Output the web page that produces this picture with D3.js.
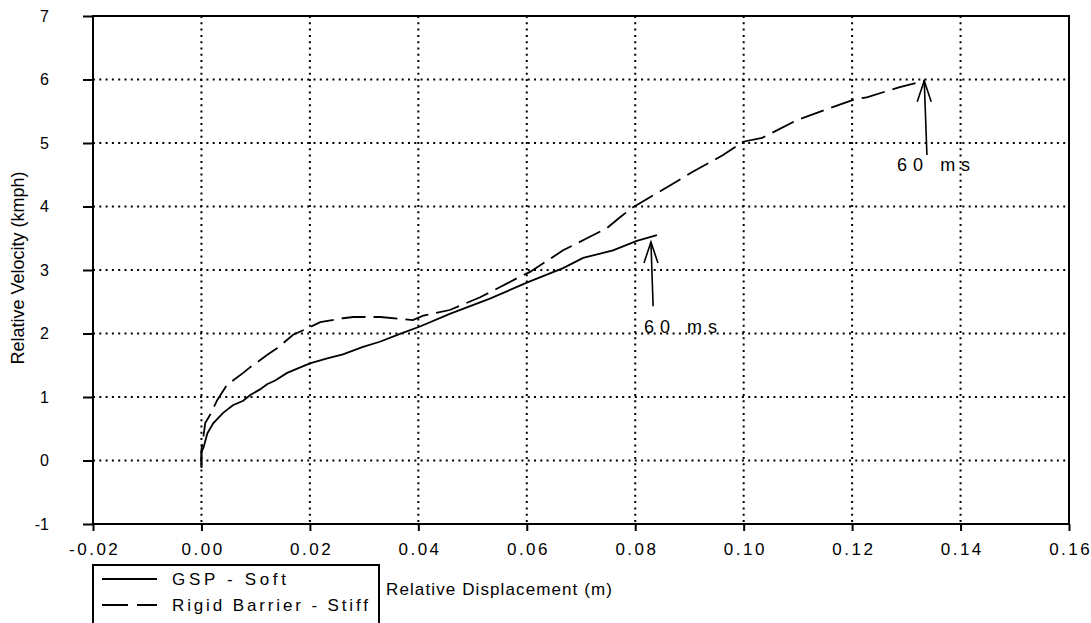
<!DOCTYPE html>
<html>
<head>
<meta charset="utf-8">
<script src="https://cdn.jsdelivr.net/npm/d3@7"></script>
<style>
  body { margin: 0; background: #fff; }
  text { font-family: "Liberation Sans", Arial, sans-serif; fill: #000; }
</style>
</head>
<body>
<div id="chart"></div>
<script>
// ---- data ----
var xTicks = [-0.02, 0.00, 0.02, 0.04, 0.06, 0.08, 0.10, 0.12, 0.14, 0.16];
var yTicks = [-1, 0, 1, 2, 3, 4, 5, 6, 7];

// GSP - Soft (solid)
var softDisp = [0, 0, 0.0004, 0.0011, 0.0022, 0.004, 0.0058, 0.0077, 0.009, 0.0108, 0.0121, 0.0136,
  0.0158, 0.020, 0.0232, 0.0261, 0.0298, 0.0329, 0.0365, 0.0403, 0.0458, 0.0532, 0.060, 0.0667,
  0.0704, 0.0759, 0.0803, 0.084];
var softVel = [-0.10, 0.13, 0.21, 0.43, 0.59, 0.75, 0.87, 0.94, 1.03, 1.12, 1.20, 1.26,
  1.38, 1.53, 1.61, 1.67, 1.79, 1.87, 1.99, 2.11, 2.31, 2.55, 2.80, 3.03,
  3.19, 3.31, 3.46, 3.55];

// Rigid Barrier - Stiff (dashed)
var stiffDisp = [0, 0, 0.0004, 0.0007, 0.0016, 0.0029, 0.0047, 0.0077, 0.009, 0.0121, 0.014, 0.0169,
  0.020, 0.0219, 0.0261, 0.028, 0.033, 0.039, 0.0409, 0.0458, 0.0514, 0.0582, 0.0606, 0.0667,
  0.0711, 0.0748, 0.0772, 0.0796, 0.084, 0.0907, 0.0962, 0.0999, 0.1034, 0.1098, 0.1159, 0.1202,
  0.1227, 0.1288, 0.1333];
var stiffVel = [-0.12, 0.17, 0.40, 0.59, 0.72, 0.95, 1.19, 1.38, 1.47, 1.66, 1.77, 1.98,
  2.10, 2.18, 2.24, 2.26, 2.26, 2.21, 2.28, 2.37, 2.57, 2.87, 2.97, 3.31,
  3.50, 3.66, 3.83, 3.99, 4.21, 4.55, 4.81, 5.02, 5.08, 5.36, 5.55, 5.68,
  5.72, 5.88, 5.98];

// "60 ms" notes: arrow tail, arrow tip, label start (data units)
var noteText = ["60 ms", "60 ms"];
var noteTail = [[0.0833, 2.43], [0.1338, 4.81]];
var noteTip = [[0.0829, 3.44], [0.1333, 5.98]];
var noteLabel = [[0.0816, 2.01], [0.1283, 4.56]];

var seriesNames = ["GSP - Soft", "Rigid Barrier - Stiff"];

// ---- chart space ----
var width = 1091, height = 623;
var plotLeft = 93, plotRight = 1069, plotTop = 16, plotBottom = 524;

var svg = d3.select("#chart").append("svg")
  .attr("width", width)
  .attr("height", height);

svg.append("rect").attr("width", width).attr("height", height).attr("fill", "#fff");

var x = d3.scaleLinear().domain([-0.02, 0.16]).range([plotLeft, plotRight]);
var y = d3.scaleLinear().domain([-1, 7]).range([plotBottom, plotTop]);

// dotted grid on the inner ticks
var grid = svg.append("g")
  .attr("stroke", "#000")
  .attr("stroke-width", 2)
  .attr("stroke-dasharray", "2,4.3");

grid.selectAll("line.vg")
  .data(xTicks.slice(1, -1))
  .enter().append("line")
  .attr("x1", function(d) { return x(d); })
  .attr("x2", function(d) { return x(d); })
  .attr("y1", plotTop).attr("y2", plotBottom);

grid.selectAll("line.hg")
  .data(yTicks.slice(1, -1))
  .enter().append("line")
  .attr("y1", function(d) { return y(d); })
  .attr("y2", function(d) { return y(d); })
  .attr("x1", plotLeft).attr("x2", plotRight);

// axes
var xAxis = d3.axisBottom(x)
  .tickValues(xTicks)
  .tickSize(7)
  .tickPadding(12)
  .tickFormat(function(d) { return d.toFixed(2); });

var yAxis = d3.axisLeft(y)
  .tickValues(yTicks)
  .tickSize(10)
  .tickPadding(34)
  .tickFormat(function(d) { return String(d); });

var gx = svg.append("g")
  .attr("transform", "translate(0," + plotBottom + ")")
  .call(xAxis);
gx.select(".domain").remove();
gx.selectAll(".tick line").attr("stroke-width", 2);
gx.selectAll(".tick text")
  .attr("font-size", 17)
  .attr("letter-spacing", "2.5px")
  .attr("dx", "1.2px")
  .attr("font-family", "Liberation Sans, Arial, sans-serif");

var gy = svg.append("g")
  .attr("transform", "translate(" + plotLeft + ",0)")
  .call(yAxis);
gy.select(".domain").remove();
gy.selectAll(".tick line").attr("stroke-width", 2);
gy.selectAll(".tick text")
  .attr("font-size", 16)
  .attr("font-family", "Liberation Sans, Arial, sans-serif");

// plot frame
svg.append("rect")
  .attr("x", plotLeft).attr("y", plotTop)
  .attr("width", plotRight - plotLeft).attr("height", plotBottom - plotTop)
  .attr("fill", "none")
  .attr("stroke", "#000")
  .attr("stroke-width", 2);

// curves
var line = d3.line()
  .x(function(d) { return x(d[0]); })
  .y(function(d) { return y(d[1]); });

svg.append("path")
  .datum(d3.zip(softDisp, softVel))
  .attr("d", line)
  .attr("fill", "none")
  .attr("stroke", "#000")
  .attr("stroke-width", 1.8);

svg.append("path")
  .datum(d3.zip(stiffDisp, stiffVel))
  .attr("d", line)
  .attr("fill", "none")
  .attr("stroke", "#000")
  .attr("stroke-width", 1.8)
  .attr("stroke-dasharray", "24,8");

// arrows with "60 ms"
noteText.forEach(function(t, i) {
  var tx = x(noteTip[i][0]), ty = y(noteTip[i][1]);
  svg.append("line")
    .attr("x1", x(noteTail[i][0])).attr("y1", y(noteTail[i][1]))
    .attr("x2", tx).attr("y2", ty)
    .attr("stroke", "#000").attr("stroke-width", 1.6);
  svg.append("path")
    .attr("d", "M" + (tx - 7) + "," + (ty + 21) + "L" + tx + "," + ty + "L" + (tx + 7) + "," + (ty + 21))
    .attr("fill", "none")
    .attr("stroke", "#000").attr("stroke-width", 1.6);
  svg.append("text")
    .attr("x", x(noteLabel[i][0]))
    .attr("y", y(noteLabel[i][1]))
    .attr("font-size", 18)
    .attr("textLength", 73)
    .attr("lengthAdjust", "spacing")
    .text(t);
});

// axis titles
svg.append("text")
  .attr("transform", "translate(24,268)rotate(-90)")
  .attr("text-anchor", "middle")
  .attr("font-size", 18)
  .text("Relative Velocity (kmph)");

svg.append("text")
  .attr("x", 386)
  .attr("y", 595)
  .attr("font-size", 17)
  .attr("textLength", 226)
  .attr("lengthAdjust", "spacing")
  .text("Relative Displacement (m)");

// legend
var legend = svg.append("g");
legend.append("rect")
  .attr("x", plotLeft).attr("y", 565)
  .attr("width", 286).attr("height", 80)
  .attr("fill", "#fff")
  .attr("stroke", "#000")
  .attr("stroke-width", 2);

var rows = [579, 605];
var dashes = [null, "26,9"];
var textLen = [114, 196];
seriesNames.forEach(function(name, i) {
  legend.append("line")
    .attr("x1", 102).attr("x2", 157)
    .attr("y1", rows[i]).attr("y2", rows[i])
    .attr("stroke", "#000")
    .attr("stroke-width", 1.8)
    .attr("stroke-dasharray", dashes[i]);
  legend.append("text")
    .attr("x", 172)
    .attr("y", rows[i] + 6)
    .attr("font-size", 17)
    .attr("textLength", textLen[i])
    .attr("lengthAdjust", "spacing")
    .text(name);
});
</script>
</body>
</html>
